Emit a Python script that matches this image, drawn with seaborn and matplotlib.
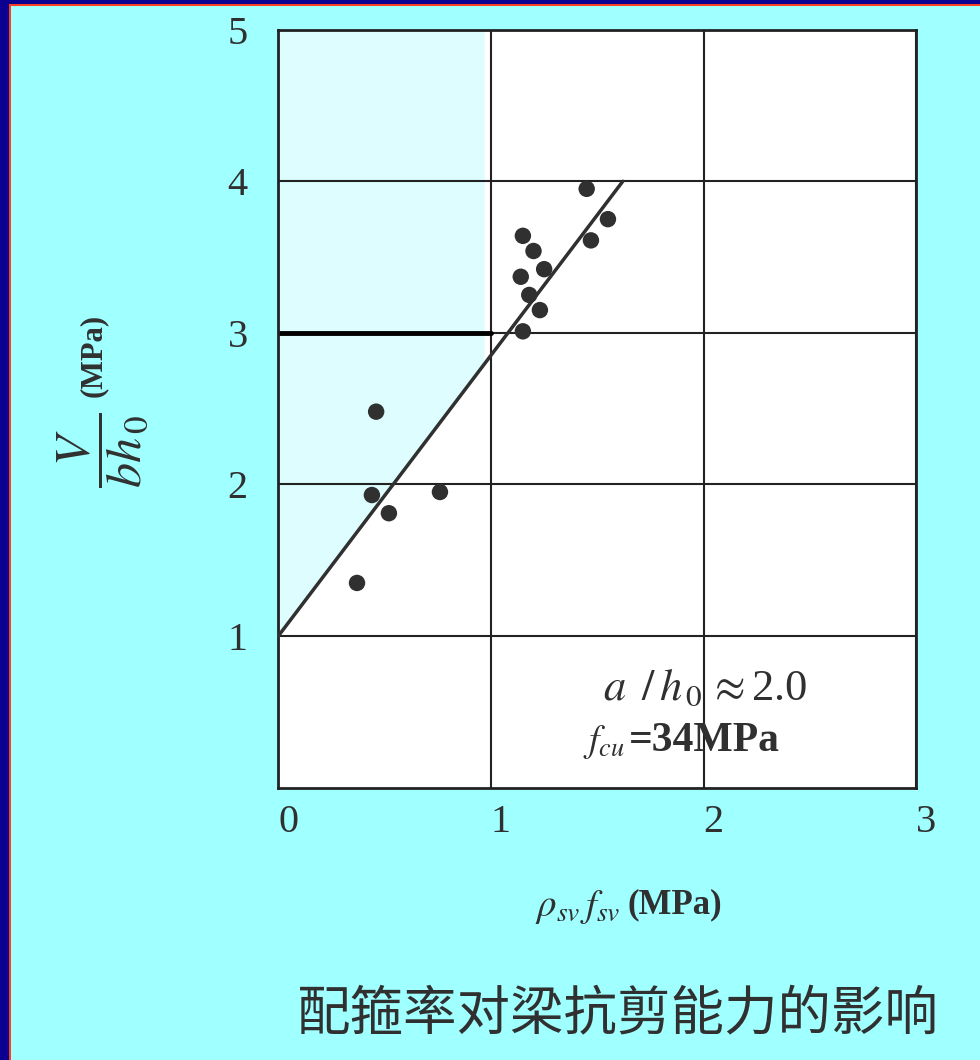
import numpy as np
import pandas as pd
import matplotlib
matplotlib.use('Agg')
import matplotlib.pyplot as plt
import matplotlib.transforms as mtransforms
import seaborn as sns
from matplotlib.patches import Rectangle

# 配箍率对梁抗剪能力的影响 - 试验点与回归直线
rho_fsv = [1.45, 1.55, 1.47, 1.15, 1.20, 1.25, 1.14, 1.18, 1.23, 1.15, 0.46, 0.44, 0.52, 0.76, 0.37]
v_bh0 = [3.95, 3.75, 3.61, 3.64, 3.54, 3.42, 3.37, 3.25, 3.15, 3.01, 2.48, 1.93, 1.81, 1.95, 1.35]
fit_x = [0.0, 1.62]
fit_y = [1.0, 4.0]
x_ticks = [0, 1, 2, 3]
y_ticks = [1, 2, 3, 4, 5]

bg = '#A0FFFF'
ink = '#303030'

sns.set_style('white')
plt.rcParams['font.family'] = ['Liberation Serif', 'DejaVu Serif']
plt.rcParams['mathtext.fontset'] = 'stix'

df = pd.DataFrame({'x': rho_fsv, 'y': v_bh0})
df_fit = pd.DataFrame({'x': fit_x, 'y': fit_y})

fig = plt.figure(figsize=(9.8, 10.6), dpi=100, facecolor=bg)
ax = fig.add_axes([0.284, 0.257, 0.651, 0.715])
ax.set_facecolor('white')

# scan tint in the upper-left cells
ax.fill([0.0, 0.97, 0.97, 0.0], [1.0, 1.0 + 0.97 * 3 / 1.62, 5.0, 5.0], color='#DDFDFF', lw=0, zorder=0)

sns.lineplot(x='x', y='y', data=df_fit, color=ink, lw=2.5, ax=ax, zorder=3)
sns.scatterplot(x='x', y='y', data=df, color=ink, s=140, edgecolor='none', ax=ax, zorder=4)
ax.plot([0, 1], [3, 3], color='black', lw=3.5, zorder=2)

ax.set_xlim(0, 3)
ax.set_ylim(0, 5)
ax.set_xticks(x_ticks)
ax.set_yticks(y_ticks)
ax.set_xticklabels([str(t) for t in x_ticks])
ax.set_yticklabels([str(t) for t in y_ticks])
ax.tick_params(axis='x', length=0, pad=12, labelsize=29, labelcolor=ink)
ax.tick_params(axis='y', length=0, pad=22, labelsize=29, labelcolor=ink)
shift = mtransforms.ScaledTranslation(10 / 100, 0, fig.dpi_scale_trans)
for lab in ax.get_xticklabels():
    lab.set_transform(lab.get_transform() + shift)
ax.grid(True, color='#222222', lw=1.5)
for s in ax.spines.values():
    s.set_color('#222222')
    s.set_linewidth(2)
ax.set_xlabel('')
ax.set_ylabel('')

# axis titles
ax.text(0.536, -0.157, r'$\rho_{sv}\,f_{sv}$', transform=ax.transAxes, fontsize=28,
        ha='right', va='center', color=ink)
ax.text(0.547, -0.155, '(MPa)', transform=ax.transAxes, fontsize=25, fontweight='bold',
        ha='left', va='center', color=ink)
ax.text(-0.275, 0.445, r'$\dfrac{V}{bh_{\,0}}$', transform=ax.transAxes, fontsize=36,
        rotation=90, ha='center', va='center', color=ink)
ax.text(-0.29, 0.57, '(MPa)', transform=ax.transAxes, fontsize=22, fontweight='bold',
        rotation=90, ha='center', va='center', color=ink)

# annotation
ax.text(0.509, 0.13, r'$a\ \,/\,h_{\,0}\,\approx$' + '2.0', transform=ax.transAxes, fontsize=32,
        ha='left', va='center', color=ink)
ax.text(0.478, 0.060, r'$f_{cu}$', transform=ax.transAxes, fontsize=27,
        ha='left', va='center', color=ink)
ax.text(0.549, 0.062, '=34MPa', transform=ax.transAxes, fontsize=30,
        fontweight='bold', ha='left', va='center', color=ink)

fig.text(0.631, 0.0425, '配箍率对梁抗剪能力的影响', fontsize=38.5, ha='center', va='center',
         color=ink, family=['Noto Sans CJK SC', 'DejaVu Sans'])

# slide frame
fig.add_artist(Rectangle((0, 0), 9 / 980, 1, transform=fig.transFigure, color='#0B0090', lw=0))
fig.add_artist(Rectangle((0, 1 - 4 / 1060), 1, 4 / 1060, transform=fig.transFigure, color='#0B0090', lw=0))
fig.add_artist(Rectangle((9 / 980, 0), 2 / 980, 1 - 4 / 1060, transform=fig.transFigure, color='#FF4020', lw=0))
fig.add_artist(Rectangle((9 / 980, 1 - 6 / 1060), 1, 2 / 1060, transform=fig.transFigure, color='#FF4020', lw=0))

fig.savefig('out.png', dpi=100, facecolor=fig.get_facecolor())
